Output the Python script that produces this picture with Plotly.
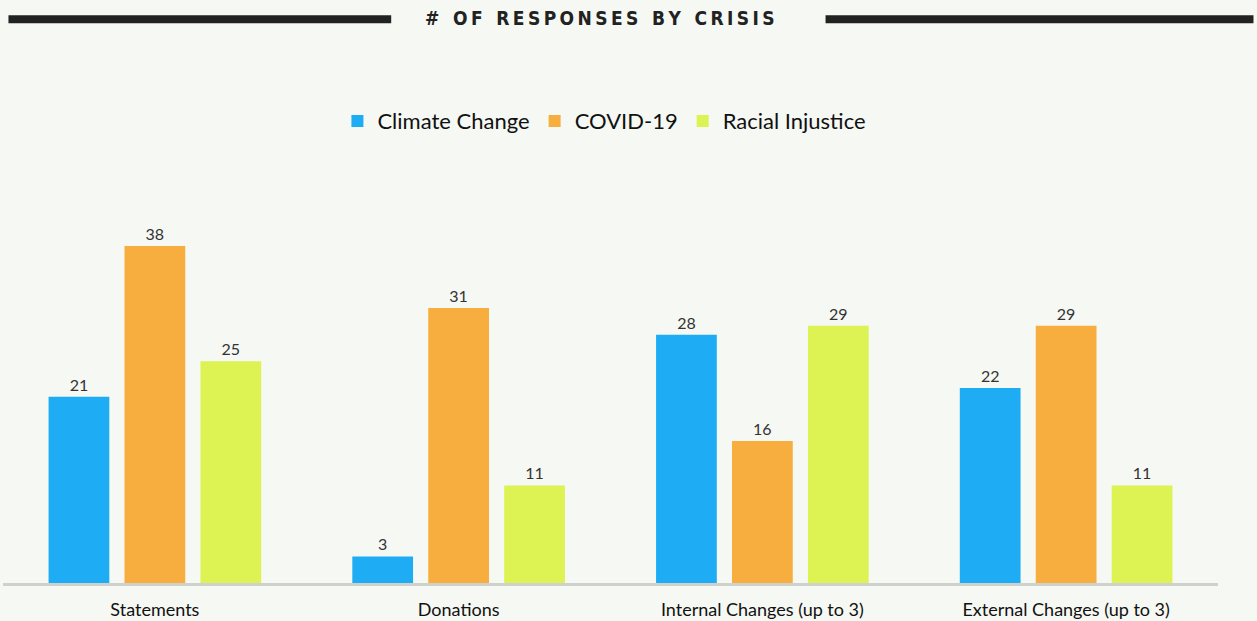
import plotly.graph_objects as go

categories = ["Statements", "Donations", "Internal Changes (up to 3)", "External Changes (up to 3)"]
climate_change = [21, 3, 28, 22]
covid_19 = [38, 31, 16, 29]
racial_injustice = [25, 11, 29, 11]

series = [
    ("Climate Change", climate_change, "#1eadf5"),
    ("COVID-19", covid_19, "#f7ae3f"),
    ("Racial Injustice", racial_injustice, "#ddf253"),
]

BG = "#f6f8f3"
FONT = "Lato"

fig = go.Figure()
for name, values, color in series:
    fig.add_trace(go.Bar(
        name=name,
        x=categories,
        y=values,
        marker=dict(color=color, line=dict(width=0)),
        text=values,
        textposition="outside",
        textfont=dict(family=FONT, size=16, color="#333333"),
        cliponaxis=False,
    ))

# title with heavy rules on both sides
title = "\u2009".join("# OF RESPONSES BY CRISIS").replace("\u2009 \u2009", "\u2009\u2009\u2009\u2009")
fig.add_annotation(
    text="<b>" + title + "</b>",
    xref="paper", yref="paper", x=0.491, y=1.336,
    showarrow=False, xanchor="center", yanchor="middle",
    font=dict(family="DejaVu Sans Condensed", size=19, color="#222222"),
)
for x0, x1 in [(0.0045, 0.3195), (0.677, 1.0292)]:
    fig.add_shape(type="line", xref="paper", yref="paper",
                  x0=x0, x1=x1, y0=1.333, y1=1.333,
                  line=dict(color="#222222", width=8))

fig.update_layout(
    width=1257, height=621,
    margin=dict(l=2.5, r=38.5, t=160, b=38, autoexpand=False),
    paper_bgcolor=BG, plot_bgcolor=BG,
    barmode="group", bargap=0.25, bargroupgap=0.2,
    showlegend=True,
    legend=dict(orientation="h", x=0.495, xanchor="center", y=1.092, yanchor="middle",
                font=dict(family=FONT, size=22, color="#111111"),
                itemwidth=30, traceorder="normal", bgcolor="rgba(0,0,0,0)"),
    font=dict(family=FONT),
)
fig.update_xaxes(showline=True, linecolor="#cfd1cc", linewidth=3, ticks="",
                 tickfont=dict(family=FONT, size=18, color="#111111"),
                 ticklabelstandoff=8,
                 showgrid=False, zeroline=False)
fig.update_yaxes(range=[0, 47.7], visible=False, showgrid=False, zeroline=False)

fig.write_html("out.html")
